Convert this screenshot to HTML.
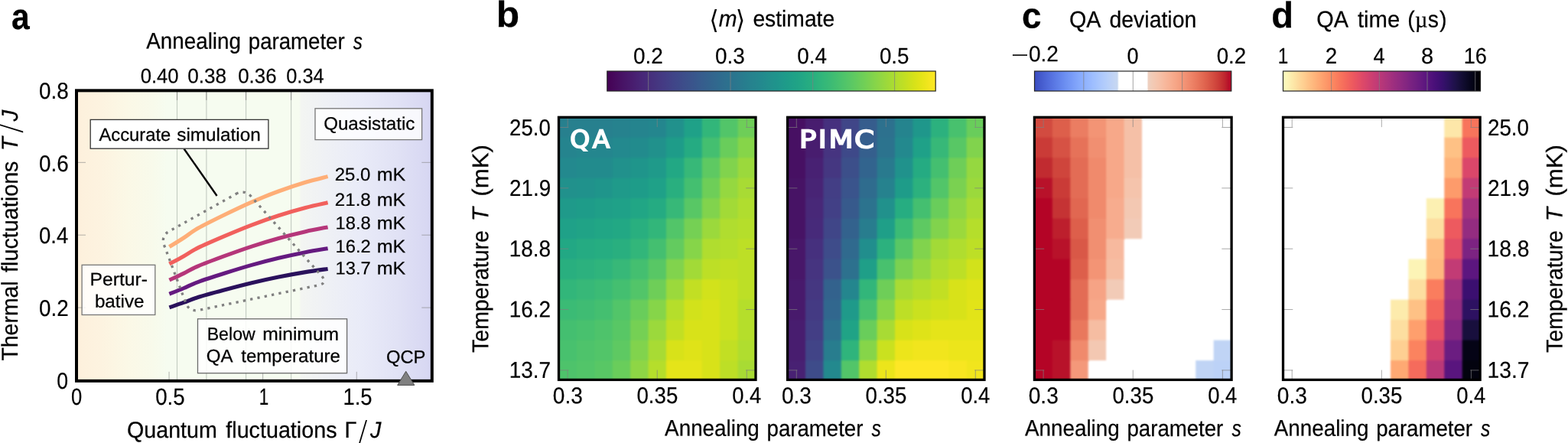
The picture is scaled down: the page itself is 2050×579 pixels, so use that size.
<!DOCTYPE html>
<html lang="en"><head><meta charset="utf-8"><title>Figure</title>
<style>
html,body{margin:0;padding:0;background:#fff;}
body{width:2050px;height:579px;overflow:hidden;font-family:"Liberation Sans", "DejaVu Sans", sans-serif;}
svg{display:block;}
</style></head>
<body>
<svg width="2050" height="579" viewBox="0 0 2050 579" text-rendering="geometricPrecision" font-family='"Liberation Sans", "DejaVu Sans", sans-serif'>
<defs>
<linearGradient id="bga" x1="0" x2="1" y1="0" y2="0">
<stop offset="0" stop-color="#fdf0dc"/>
<stop offset="0.07" stop-color="#fdf3e0"/>
<stop offset="0.14" stop-color="#fbf8e6"/>
<stop offset="0.215" stop-color="#f8faeb"/>
<stop offset="0.255" stop-color="#f6fcf0"/>
<stop offset="0.626" stop-color="#f6fcf0"/>
<stop offset="0.632" stop-color="#f3f5f2"/>
<stop offset="0.70" stop-color="#eff1f5"/>
<stop offset="0.80" stop-color="#e9ebf8"/>
<stop offset="0.90" stop-color="#e1e2f5"/>
<stop offset="1" stop-color="#d6d6f2"/>
</linearGradient>
</defs>
<rect x="100.0" y="118.35" width="464.79999999999995" height="379.5" fill="url(#bga)"/>
<line x1="231.5" x2="231.5" y1="118.35" y2="497.85" stroke="#c3cbc1" stroke-width="1.1"/>
<line x1="269.9" x2="269.9" y1="118.35" y2="497.85" stroke="#c3cbc1" stroke-width="1.1"/>
<line x1="321.6" x2="321.6" y1="118.35" y2="497.85" stroke="#c3cbc1" stroke-width="1.1"/>
<line x1="380.6" x2="380.6" y1="118.35" y2="497.85" stroke="#c3cbc1" stroke-width="1.1"/>
<line x1="231.5" x2="231.5" y1="118.35" y2="130.85" stroke="#808080" stroke-width="1" stroke-opacity="0.8"/>
<line x1="269.9" x2="269.9" y1="118.35" y2="130.85" stroke="#808080" stroke-width="1" stroke-opacity="0.8"/>
<line x1="321.6" x2="321.6" y1="118.35" y2="130.85" stroke="#808080" stroke-width="1" stroke-opacity="0.8"/>
<line x1="380.6" x2="380.6" y1="118.35" y2="130.85" stroke="#808080" stroke-width="1" stroke-opacity="0.8"/>
<line x1="221.05" x2="221.05" y1="497.85" y2="485.85" stroke="#808080" stroke-width="1" stroke-opacity="0.6"/>
<line x1="343.65" x2="343.65" y1="497.85" y2="485.85" stroke="#808080" stroke-width="1" stroke-opacity="0.6"/>
<line x1="466.25" x2="466.25" y1="497.85" y2="485.85" stroke="#808080" stroke-width="1" stroke-opacity="0.6"/>
<line x1="100.0" x2="112.0" y1="402.08" y2="402.08" stroke="#808080" stroke-width="1" stroke-opacity="0.6"/>
<line x1="564.8" x2="551.3" y1="402.08" y2="402.08" stroke="#808080" stroke-width="1" stroke-opacity="0.6"/>
<line x1="100.0" x2="112.0" y1="307.20" y2="307.20" stroke="#808080" stroke-width="1" stroke-opacity="0.6"/>
<line x1="564.8" x2="551.3" y1="307.20" y2="307.20" stroke="#808080" stroke-width="1" stroke-opacity="0.6"/>
<line x1="100.0" x2="112.0" y1="212.33" y2="212.33" stroke="#808080" stroke-width="1" stroke-opacity="0.6"/>
<line x1="564.8" x2="551.3" y1="212.33" y2="212.33" stroke="#808080" stroke-width="1" stroke-opacity="0.6"/>
<path d="M221.40 322.60 C224.50 320.67 233.75 315.05 240.00 311.00 C246.25 306.95 249.90 303.38 258.90 298.30 C267.90 293.22 282.30 286.20 294.00 280.50 C305.70 274.80 317.40 269.18 329.10 264.10 C340.80 259.02 352.48 254.30 364.20 250.00 C375.92 245.70 388.67 241.53 399.40 238.30 C410.13 235.07 423.73 231.88 428.60 230.60" fill="none" stroke="#feae77" stroke-width="5.1" stroke-linecap="butt"/>
<path d="M221.40 345.03 C224.50 343.35 233.75 338.45 240.00 334.92 C246.25 331.39 249.90 328.28 258.90 323.84 C267.90 319.41 282.30 313.29 294.00 308.32 C305.70 303.35 317.40 298.45 329.10 294.02 C340.80 289.59 352.48 285.47 364.20 281.72 C375.92 277.98 388.67 274.34 399.40 271.52 C410.13 268.70 423.73 265.93 428.60 264.81" fill="none" stroke="#f1605d" stroke-width="5.1" stroke-linecap="butt"/>
<path d="M221.40 366.06 C224.50 364.61 233.75 360.38 240.00 357.34 C246.25 354.29 249.90 351.61 258.90 347.79 C267.90 343.97 282.30 338.69 294.00 334.40 C305.70 330.12 317.40 325.89 329.10 322.07 C340.80 318.25 352.48 314.70 364.20 311.47 C375.92 308.23 388.67 305.10 399.40 302.67 C410.13 300.24 423.73 297.84 428.60 296.88" fill="none" stroke="#b5367a" stroke-width="5.1" stroke-linecap="butt"/>
<path d="M221.40 384.29 C224.50 383.04 233.75 379.40 240.00 376.77 C246.25 374.15 249.90 371.84 258.90 368.54 C267.90 365.25 282.30 360.70 294.00 357.01 C305.70 353.31 317.40 349.67 329.10 346.38 C340.80 343.09 352.48 340.03 364.20 337.24 C375.92 334.46 388.67 331.76 399.40 329.66 C410.13 327.57 423.73 325.50 428.60 324.67" fill="none" stroke="#651a80" stroke-width="5.1" stroke-linecap="butt"/>
<path d="M221.40 401.81 C224.50 400.75 233.75 397.68 240.00 395.46 C246.25 393.24 249.90 391.28 258.90 388.50 C267.90 385.71 282.30 381.87 294.00 378.74 C305.70 375.62 317.40 372.54 329.10 369.75 C340.80 366.97 352.48 364.38 364.20 362.03 C375.92 359.67 388.67 357.39 399.40 355.62 C410.13 353.84 423.73 352.10 428.60 351.40" fill="none" stroke="#2a115c" stroke-width="5.1" stroke-linecap="butt"/>
<path d="M308.45 253.53 Q319.80 247.20 328.43 256.93 L420.27 360.47 Q428.90 370.20 416.17 372.85 L260.13 405.35 Q247.40 408.00 242.84 395.83 L214.66 320.57 Q210.10 308.40 221.45 302.07 Z" fill="none" stroke="#808080" stroke-width="3.3" stroke-dasharray="3.3 6.2"/>
<line x1="240.6" y1="194.5" x2="283.6" y2="256.0" stroke="#000" stroke-width="2.4"/>
<rect x="118.2" y="156.4" width="232.7" height="37.79999999999998" fill="#fff" fill-opacity="1" stroke="#333" stroke-width="1.3"/>
<rect x="412" y="141.8" width="139.60000000000002" height="40.79999999999998" fill="#fff" fill-opacity="0.8" stroke="#777" stroke-width="1.3"/>
<rect x="107.1" y="346.3" width="95.70000000000002" height="65.19999999999999" fill="#fff" fill-opacity="0.8" stroke="#777" stroke-width="1.3"/>
<rect x="258.5" y="416.8" width="195.10000000000002" height="70.89999999999998" fill="#fff" fill-opacity="0.85" stroke="#6a6a6a" stroke-width="1.3"/>
<g>
<text transform="translate(129.40 184.00) rotate(0.03) scale(1.0079 1)" font-size="23.6" fill="#000" stroke="#000" stroke-width="0.25">Accurate</text>
<text transform="translate(231.22 184.00) rotate(0.03) scale(1.0311 1)" font-size="23.6" fill="#000" stroke="#000" stroke-width="0.25">simulation</text>
</g>
<text transform="translate(423.17 169.50) rotate(0.03) scale(1.0212 1)" font-size="23.6" fill="#000" stroke="#000" stroke-width="0.25">Quasistatic</text>
<text transform="translate(117.57 373.00) rotate(0.03) scale(1.0457 1)" font-size="23.6" fill="#000" stroke="#000" stroke-width="0.25">Pertur-</text>
<text transform="translate(123.89 401.70) rotate(0.03) scale(1.0257 1)" font-size="23.6" fill="#000" stroke="#000" stroke-width="0.25">bative</text>
<g>
<text transform="translate(270.69 444.60) rotate(0.03) scale(0.9805 1)" font-size="23.6" fill="#000" stroke="#000" stroke-width="0.25">Below</text>
<text transform="translate(343.16 444.60) rotate(0.03) scale(1.0450 1)" font-size="23.6" fill="#000" stroke="#000" stroke-width="0.25">minimum</text>
</g>
<g>
<text transform="translate(269.77 473.20) rotate(0.03) scale(1.0209 1)" font-size="23.6" fill="#000" stroke="#000" stroke-width="0.25">QA</text>
<text transform="translate(315.20 473.20) rotate(0.03) scale(1.0199 1)" font-size="23.6" fill="#000" stroke="#000" stroke-width="0.25">temperature</text>
</g>
<text transform="translate(504.89 474.40) rotate(0.03) scale(1.0073 1)" font-size="23.6" fill="#000" stroke="#000" stroke-width="0.25">QCP</text>
<g>
<text transform="translate(437.78 235.90) rotate(0.03) scale(1.0150 1)" font-size="23.6" fill="#000" stroke="#000" stroke-width="0.2">25.0</text>
<text transform="translate(492.74 235.90) rotate(0.03) scale(1.0602 1)" font-size="23.6" fill="#000" stroke="#000" stroke-width="0.25">mK</text>
</g>
<g>
<text transform="translate(437.77 269.00) rotate(0.03) scale(1.0235 1)" font-size="23.6" fill="#000" stroke="#000" stroke-width="0.2">21.8</text>
<text transform="translate(492.74 269.00) rotate(0.03) scale(1.0602 1)" font-size="23.6" fill="#000" stroke="#000" stroke-width="0.25">mK</text>
</g>
<g>
<text transform="translate(438.62 299.40) rotate(0.03) scale(1.0046 1)" font-size="23.6" fill="#000" stroke="#000" stroke-width="0.2">18.8</text>
<text transform="translate(492.74 299.40) rotate(0.03) scale(1.0602 1)" font-size="23.6" fill="#000" stroke="#000" stroke-width="0.25">mK</text>
</g>
<g>
<text transform="translate(438.62 329.90) rotate(0.03) scale(1.0046 1)" font-size="23.6" fill="#000" stroke="#000" stroke-width="0.2">16.2</text>
<text transform="translate(492.74 329.90) rotate(0.03) scale(1.0602 1)" font-size="23.6" fill="#000" stroke="#000" stroke-width="0.25">mK</text>
</g>
<g>
<text transform="translate(438.62 358.50) rotate(0.03) scale(1.0046 1)" font-size="23.6" fill="#000" stroke="#000" stroke-width="0.2">13.7</text>
<text transform="translate(492.74 358.50) rotate(0.03) scale(1.0602 1)" font-size="23.6" fill="#000" stroke="#000" stroke-width="0.25">mK</text>
</g>
<rect x="100.0" y="118.35" width="464.79999999999995" height="379.5" fill="none" stroke="#000" stroke-width="4.0"/>
<path d="M530.7 485.3 L541.8 503.4 L519.7 503.4 Z" fill="#808080" stroke="#4d4d4d" stroke-width="1"/>
<text transform="translate(93.00 529.00) rotate(0.03) scale(0.8366 1)" font-size="30.6" fill="#000" stroke="#000" stroke-width="0.2">0</text>
<text transform="translate(203.13 529.00) rotate(0.03) scale(0.9048 1)" font-size="30.6" fill="#000" stroke="#000" stroke-width="0.2">0.5</text>
<text transform="translate(338.79 529.00) rotate(0.03) scale(0.7356 1)" font-size="30.6" fill="#000" stroke="#000" stroke-width="0.2">1</text>
<text transform="translate(448.49 529.00) rotate(0.03) scale(0.8963 1)" font-size="30.6" fill="#000" stroke="#000" stroke-width="0.2">1.5</text>
<text transform="translate(50.93 128.65) rotate(0.03) scale(0.9279 1)" font-size="30.0" fill="#000" stroke="#000" stroke-width="0.2">0.8</text>
<text transform="translate(50.93 223.53) rotate(0.03) scale(0.9279 1)" font-size="30.0" fill="#000" stroke="#000" stroke-width="0.2">0.6</text>
<text transform="translate(50.94 318.40) rotate(0.03) scale(0.9171 1)" font-size="30.0" fill="#000" stroke="#000" stroke-width="0.2">0.4</text>
<text transform="translate(50.93 413.28) rotate(0.03) scale(0.9279 1)" font-size="30.0" fill="#000" stroke="#000" stroke-width="0.2">0.2</text>
<text transform="translate(74.37 508.05) rotate(0.03) scale(0.8867 1)" font-size="30.0" fill="#000" stroke="#000" stroke-width="0.2">0</text>
<text transform="translate(183.70 108.50) rotate(0.03) scale(0.9504 1)" font-size="27.0" fill="#000" stroke="#000" stroke-width="0.2">0.40</text>
<text transform="translate(245.18 108.50) rotate(0.03) scale(0.9682 1)" font-size="27.0" fill="#000" stroke="#000" stroke-width="0.2">0.38</text>
<text transform="translate(311.19 108.50) rotate(0.03) scale(0.9583 1)" font-size="27.0" fill="#000" stroke="#000" stroke-width="0.2">0.36</text>
<text transform="translate(374.21 108.50) rotate(0.03) scale(0.9406 1)" font-size="27.0" fill="#000" stroke="#000" stroke-width="0.2">0.34</text>
<g>
<text transform="translate(191.30 63.60) rotate(0.03) scale(0.9329 1)" font-size="29.8" fill="#000" stroke="#000" stroke-width="0.25">Annealing</text>
<text transform="translate(324.77 63.60) rotate(0.03) scale(0.9267 1)" font-size="29.8" fill="#000" stroke="#000" stroke-width="0.25">parameter</text>
<text transform="translate(461.80 63.60) rotate(0.03) scale(0.8106 1)" font-size="29.8" fill="#000" stroke="#000" stroke-width="0.25"><tspan font-style="italic">s</tspan></text>
</g>
<g>
<g>
<text transform="translate(166.06 572.00) rotate(0.03) scale(0.9604 1)" font-size="29.8" fill="#000" stroke="#000" stroke-width="0.25">Quantum</text>
<text transform="translate(295.30 572.00) rotate(0.03) scale(0.9632 1)" font-size="29.8" fill="#000" stroke="#000" stroke-width="0.25">fluctuations</text>
</g>
<text transform="translate(450.45 572.00) rotate(0.03) scale(0.9647 1)" font-size="29.8" fill="#000" stroke="#000" stroke-width="0.25"><tspan x="0.00" y="0.00">Γ</tspan><tspan font-weight="200" font-family='"DejaVu Sans", sans-serif' font-size="37.1" stroke-width="0" x="18.70" y="3.90">/</tspan><tspan font-style="italic" x="34.82" y="0.00">J</tspan></text>
</g>
<g>
<g>
<text transform="translate(22.90 471.54) rotate(-89.97) scale(0.9536 1)" font-size="29.8" fill="#000" stroke="#000" stroke-width="0.25">Thermal</text>
<text transform="translate(22.90 355.90) rotate(-89.97) scale(0.9645 1)" font-size="29.8" fill="#000" stroke="#000" stroke-width="0.25">fluctuations</text>
</g>
<text transform="translate(22.90 197.30) rotate(-89.97) scale(0.9873 1)" font-size="29.8" fill="#000" stroke="#000" stroke-width="0.25"><tspan font-style="italic" x="0.00" y="0.00">T</tspan><tspan font-weight="200" font-family='"DejaVu Sans", sans-serif' font-size="37.1" stroke-width="0" x="23.55" y="3.90">/</tspan><tspan font-style="italic" x="39.36" y="0.00">J</tspan></text>
</g>
<text transform="translate(15.03 37.60) rotate(0.03) scale(0.8970 1)" font-size="47.5" fill="#000" stroke="#000" stroke-width="0.25"><tspan font-weight="bold">a</tspan></text>
<defs><filter id="soft" x="-5%" y="-5%" width="110%" height="110%" color-interpolation-filters="sRGB"><feGaussianBlur stdDeviation="1.0"/></filter></defs>
<defs><clipPath id="hc1"><rect x="730.5" y="153.3" width="257.5" height="343.09999999999997"/></clipPath></defs>
<rect x="730.5" y="153.3" width="257.5" height="343.09999999999997" fill="#fff"/>
<g clip-path="url(#hc1)"><g filter="url(#soft)">
<rect x="726.50" y="149.20" width="28.41" height="31.49" fill="#27808e"/>
<rect x="753.91" y="149.20" width="24.41" height="31.49" fill="#27808e"/>
<rect x="777.32" y="149.20" width="24.41" height="31.49" fill="#27808e"/>
<rect x="800.73" y="149.20" width="24.41" height="31.49" fill="#26828e"/>
<rect x="824.14" y="149.20" width="24.41" height="31.49" fill="#25848e"/>
<rect x="847.55" y="149.20" width="24.41" height="31.49" fill="#24868e"/>
<rect x="870.95" y="149.20" width="24.41" height="31.49" fill="#21918c"/>
<rect x="894.36" y="149.20" width="24.41" height="31.49" fill="#1fa188"/>
<rect x="917.77" y="149.20" width="24.41" height="31.49" fill="#32b67a"/>
<rect x="941.18" y="149.20" width="24.41" height="31.49" fill="#52c569"/>
<rect x="964.59" y="149.20" width="27.41" height="31.49" fill="#6ece58"/>
<rect x="726.50" y="179.69" width="28.41" height="27.49" fill="#25848e"/>
<rect x="753.91" y="179.69" width="24.41" height="27.49" fill="#24868e"/>
<rect x="777.32" y="179.69" width="24.41" height="27.49" fill="#24868e"/>
<rect x="800.73" y="179.69" width="24.41" height="27.49" fill="#23898e"/>
<rect x="824.14" y="179.69" width="24.41" height="27.49" fill="#228b8d"/>
<rect x="847.55" y="179.69" width="24.41" height="27.49" fill="#21918c"/>
<rect x="870.95" y="179.69" width="24.41" height="27.49" fill="#1e9c89"/>
<rect x="894.36" y="179.69" width="24.41" height="27.49" fill="#25ab82"/>
<rect x="917.77" y="179.69" width="24.41" height="27.49" fill="#44bf70"/>
<rect x="941.18" y="179.69" width="24.41" height="27.49" fill="#69cd5b"/>
<rect x="964.59" y="179.69" width="27.41" height="27.49" fill="#86d549"/>
<rect x="726.50" y="206.18" width="28.41" height="27.49" fill="#23898e"/>
<rect x="753.91" y="206.18" width="24.41" height="27.49" fill="#228b8d"/>
<rect x="777.32" y="206.18" width="24.41" height="27.49" fill="#228b8d"/>
<rect x="800.73" y="206.18" width="24.41" height="27.49" fill="#21918c"/>
<rect x="824.14" y="206.18" width="24.41" height="27.49" fill="#1f958b"/>
<rect x="847.55" y="206.18" width="24.41" height="27.49" fill="#1f9a8a"/>
<rect x="870.95" y="206.18" width="24.41" height="27.49" fill="#22a884"/>
<rect x="894.36" y="206.18" width="24.41" height="27.49" fill="#37b878"/>
<rect x="917.77" y="206.18" width="24.41" height="27.49" fill="#5ec962"/>
<rect x="941.18" y="206.18" width="24.41" height="27.49" fill="#81d34d"/>
<rect x="964.59" y="206.18" width="27.41" height="27.49" fill="#9bd93c"/>
<rect x="726.50" y="232.68" width="28.41" height="27.49" fill="#21918c"/>
<rect x="753.91" y="232.68" width="24.41" height="27.49" fill="#20928c"/>
<rect x="777.32" y="232.68" width="24.41" height="27.49" fill="#1f958b"/>
<rect x="800.73" y="232.68" width="24.41" height="27.49" fill="#1f9a8a"/>
<rect x="824.14" y="232.68" width="24.41" height="27.49" fill="#1e9c89"/>
<rect x="847.55" y="232.68" width="24.41" height="27.49" fill="#1fa188"/>
<rect x="870.95" y="232.68" width="24.41" height="27.49" fill="#29af7f"/>
<rect x="894.36" y="232.68" width="24.41" height="27.49" fill="#44bf70"/>
<rect x="917.77" y="232.68" width="24.41" height="27.49" fill="#6ece58"/>
<rect x="941.18" y="232.68" width="24.41" height="27.49" fill="#95d840"/>
<rect x="964.59" y="232.68" width="27.41" height="27.49" fill="#a8db34"/>
<rect x="726.50" y="259.17" width="28.41" height="27.49" fill="#1f9a8a"/>
<rect x="753.91" y="259.17" width="24.41" height="27.49" fill="#1e9c89"/>
<rect x="777.32" y="259.17" width="24.41" height="27.49" fill="#1f9f88"/>
<rect x="800.73" y="259.17" width="24.41" height="27.49" fill="#1fa188"/>
<rect x="824.14" y="259.17" width="24.41" height="27.49" fill="#21a685"/>
<rect x="847.55" y="259.17" width="24.41" height="27.49" fill="#25ab82"/>
<rect x="870.95" y="259.17" width="24.41" height="27.49" fill="#37b878"/>
<rect x="894.36" y="259.17" width="24.41" height="27.49" fill="#58c765"/>
<rect x="917.77" y="259.17" width="24.41" height="27.49" fill="#81d34d"/>
<rect x="941.18" y="259.17" width="24.41" height="27.49" fill="#a2da37"/>
<rect x="964.59" y="259.17" width="27.41" height="27.49" fill="#b0dd2f"/>
<rect x="726.50" y="285.66" width="28.41" height="27.49" fill="#1fa188"/>
<rect x="753.91" y="285.66" width="24.41" height="27.49" fill="#20a386"/>
<rect x="777.32" y="285.66" width="24.41" height="27.49" fill="#21a685"/>
<rect x="800.73" y="285.66" width="24.41" height="27.49" fill="#22a884"/>
<rect x="824.14" y="285.66" width="24.41" height="27.49" fill="#29af7f"/>
<rect x="847.55" y="285.66" width="24.41" height="27.49" fill="#32b67a"/>
<rect x="870.95" y="285.66" width="24.41" height="27.49" fill="#52c569"/>
<rect x="894.36" y="285.66" width="24.41" height="27.49" fill="#75d054"/>
<rect x="917.77" y="285.66" width="24.41" height="27.49" fill="#9bd93c"/>
<rect x="941.18" y="285.66" width="24.41" height="27.49" fill="#b0dd2f"/>
<rect x="964.59" y="285.66" width="27.41" height="27.49" fill="#b5de2b"/>
<rect x="726.50" y="312.15" width="28.41" height="27.49" fill="#22a884"/>
<rect x="753.91" y="312.15" width="24.41" height="27.49" fill="#25ab82"/>
<rect x="777.32" y="312.15" width="24.41" height="27.49" fill="#26ad81"/>
<rect x="800.73" y="312.15" width="24.41" height="27.49" fill="#29af7f"/>
<rect x="824.14" y="312.15" width="24.41" height="27.49" fill="#32b67a"/>
<rect x="847.55" y="312.15" width="24.41" height="27.49" fill="#44bf70"/>
<rect x="870.95" y="312.15" width="24.41" height="27.49" fill="#63cb5f"/>
<rect x="894.36" y="312.15" width="24.41" height="27.49" fill="#86d549"/>
<rect x="917.77" y="312.15" width="24.41" height="27.49" fill="#b0dd2f"/>
<rect x="941.18" y="312.15" width="24.41" height="27.49" fill="#b5de2b"/>
<rect x="964.59" y="312.15" width="27.41" height="27.49" fill="#bddf26"/>
<rect x="726.50" y="338.65" width="28.41" height="27.49" fill="#29af7f"/>
<rect x="753.91" y="338.65" width="24.41" height="27.49" fill="#2cb17e"/>
<rect x="777.32" y="338.65" width="24.41" height="27.49" fill="#2fb47c"/>
<rect x="800.73" y="338.65" width="24.41" height="27.49" fill="#37b878"/>
<rect x="824.14" y="338.65" width="24.41" height="27.49" fill="#44bf70"/>
<rect x="847.55" y="338.65" width="24.41" height="27.49" fill="#58c765"/>
<rect x="870.95" y="338.65" width="24.41" height="27.49" fill="#81d34d"/>
<rect x="894.36" y="338.65" width="24.41" height="27.49" fill="#a2da37"/>
<rect x="917.77" y="338.65" width="24.41" height="27.49" fill="#bddf26"/>
<rect x="941.18" y="338.65" width="24.41" height="27.49" fill="#c2df23"/>
<rect x="964.59" y="338.65" width="27.41" height="27.49" fill="#bddf26"/>
<rect x="726.50" y="365.14" width="28.41" height="27.49" fill="#32b67a"/>
<rect x="753.91" y="365.14" width="24.41" height="27.49" fill="#37b878"/>
<rect x="777.32" y="365.14" width="24.41" height="27.49" fill="#3bbb75"/>
<rect x="800.73" y="365.14" width="24.41" height="27.49" fill="#44bf70"/>
<rect x="824.14" y="365.14" width="24.41" height="27.49" fill="#52c569"/>
<rect x="847.55" y="365.14" width="24.41" height="27.49" fill="#6ece58"/>
<rect x="870.95" y="365.14" width="24.41" height="27.49" fill="#9bd93c"/>
<rect x="894.36" y="365.14" width="24.41" height="27.49" fill="#c2df23"/>
<rect x="917.77" y="365.14" width="24.41" height="27.49" fill="#d2e21b"/>
<rect x="941.18" y="365.14" width="24.41" height="27.49" fill="#cae11f"/>
<rect x="964.59" y="365.14" width="27.41" height="27.49" fill="#bddf26"/>
<rect x="726.50" y="391.63" width="28.41" height="27.49" fill="#3bbb75"/>
<rect x="753.91" y="391.63" width="24.41" height="27.49" fill="#3fbc73"/>
<rect x="777.32" y="391.63" width="24.41" height="27.49" fill="#44bf70"/>
<rect x="800.73" y="391.63" width="24.41" height="27.49" fill="#52c569"/>
<rect x="824.14" y="391.63" width="24.41" height="27.49" fill="#69cd5b"/>
<rect x="847.55" y="391.63" width="24.41" height="27.49" fill="#86d549"/>
<rect x="870.95" y="391.63" width="24.41" height="27.49" fill="#b5de2b"/>
<rect x="894.36" y="391.63" width="24.41" height="27.49" fill="#d2e21b"/>
<rect x="917.77" y="391.63" width="24.41" height="27.49" fill="#d8e219"/>
<rect x="941.18" y="391.63" width="24.41" height="27.49" fill="#cae11f"/>
<rect x="964.59" y="391.63" width="27.41" height="27.49" fill="#b5de2b"/>
<rect x="726.50" y="418.12" width="28.41" height="27.49" fill="#44bf70"/>
<rect x="753.91" y="418.12" width="24.41" height="27.49" fill="#48c16e"/>
<rect x="777.32" y="418.12" width="24.41" height="27.49" fill="#4ec36b"/>
<rect x="800.73" y="418.12" width="24.41" height="27.49" fill="#58c765"/>
<rect x="824.14" y="418.12" width="24.41" height="27.49" fill="#75d054"/>
<rect x="847.55" y="418.12" width="24.41" height="27.49" fill="#9bd93c"/>
<rect x="870.95" y="418.12" width="24.41" height="27.49" fill="#c2df23"/>
<rect x="894.36" y="418.12" width="24.41" height="27.49" fill="#d8e219"/>
<rect x="917.77" y="418.12" width="24.41" height="27.49" fill="#d8e219"/>
<rect x="941.18" y="418.12" width="24.41" height="27.49" fill="#cae11f"/>
<rect x="964.59" y="418.12" width="27.41" height="27.49" fill="#b5de2b"/>
<rect x="726.50" y="444.62" width="28.41" height="27.49" fill="#48c16e"/>
<rect x="753.91" y="444.62" width="24.41" height="27.49" fill="#4ec36b"/>
<rect x="777.32" y="444.62" width="24.41" height="27.49" fill="#52c569"/>
<rect x="800.73" y="444.62" width="24.41" height="27.49" fill="#5ec962"/>
<rect x="824.14" y="444.62" width="24.41" height="27.49" fill="#81d34d"/>
<rect x="847.55" y="444.62" width="24.41" height="27.49" fill="#a8db34"/>
<rect x="870.95" y="444.62" width="24.41" height="27.49" fill="#d8e219"/>
<rect x="894.36" y="444.62" width="24.41" height="27.49" fill="#dfe318"/>
<rect x="917.77" y="444.62" width="24.41" height="27.49" fill="#d8e219"/>
<rect x="941.18" y="444.62" width="24.41" height="27.49" fill="#c2df23"/>
<rect x="964.59" y="444.62" width="27.41" height="27.49" fill="#b0dd2f"/>
<rect x="726.50" y="471.11" width="28.41" height="30.49" fill="#4ec36b"/>
<rect x="753.91" y="471.11" width="24.41" height="30.49" fill="#52c569"/>
<rect x="777.32" y="471.11" width="24.41" height="30.49" fill="#58c765"/>
<rect x="800.73" y="471.11" width="24.41" height="30.49" fill="#69cd5b"/>
<rect x="824.14" y="471.11" width="24.41" height="30.49" fill="#8ed645"/>
<rect x="847.55" y="471.11" width="24.41" height="30.49" fill="#b5de2b"/>
<rect x="870.95" y="471.11" width="24.41" height="30.49" fill="#e5e419"/>
<rect x="894.36" y="471.11" width="24.41" height="30.49" fill="#e5e419"/>
<rect x="917.77" y="471.11" width="24.41" height="30.49" fill="#d8e219"/>
<rect x="941.18" y="471.11" width="24.41" height="30.49" fill="#bddf26"/>
<rect x="964.59" y="471.11" width="27.41" height="30.49" fill="#a8db34"/>
</g></g>
<line x1="742.20" x2="742.20" y1="153.3" y2="166.10000000000002" stroke="#808080" stroke-width="0.9" stroke-opacity="0.75"/>
<line x1="742.20" x2="742.20" y1="496.4" y2="483.59999999999997" stroke="#808080" stroke-width="0.9" stroke-opacity="0.75"/>
<line x1="859.25" x2="859.25" y1="153.3" y2="166.10000000000002" stroke="#808080" stroke-width="0.9" stroke-opacity="0.75"/>
<line x1="859.25" x2="859.25" y1="496.4" y2="483.59999999999997" stroke="#808080" stroke-width="0.9" stroke-opacity="0.75"/>
<line x1="976.30" x2="976.30" y1="153.3" y2="166.10000000000002" stroke="#808080" stroke-width="0.9" stroke-opacity="0.75"/>
<line x1="976.30" x2="976.30" y1="496.4" y2="483.59999999999997" stroke="#808080" stroke-width="0.9" stroke-opacity="0.75"/>
<line x1="730.5" x2="743.3" y1="166.50" y2="166.50" stroke="#808080" stroke-width="0.9" stroke-opacity="0.75"/>
<line x1="988.0" x2="975.2" y1="166.50" y2="166.50" stroke="#808080" stroke-width="0.9" stroke-opacity="0.75"/>
<line x1="730.5" x2="743.3" y1="245.85" y2="245.85" stroke="#808080" stroke-width="0.9" stroke-opacity="0.75"/>
<line x1="988.0" x2="975.2" y1="245.85" y2="245.85" stroke="#808080" stroke-width="0.9" stroke-opacity="0.75"/>
<line x1="730.5" x2="743.3" y1="325.20" y2="325.20" stroke="#808080" stroke-width="0.9" stroke-opacity="0.75"/>
<line x1="988.0" x2="975.2" y1="325.20" y2="325.20" stroke="#808080" stroke-width="0.9" stroke-opacity="0.75"/>
<line x1="730.5" x2="743.3" y1="404.55" y2="404.55" stroke="#808080" stroke-width="0.9" stroke-opacity="0.75"/>
<line x1="988.0" x2="975.2" y1="404.55" y2="404.55" stroke="#808080" stroke-width="0.9" stroke-opacity="0.75"/>
<line x1="730.5" x2="743.3" y1="483.90" y2="483.90" stroke="#808080" stroke-width="0.9" stroke-opacity="0.75"/>
<line x1="988.0" x2="975.2" y1="483.90" y2="483.90" stroke="#808080" stroke-width="0.9" stroke-opacity="0.75"/>
<rect x="730.5" y="153.3" width="257.5" height="343.09999999999997" fill="none" stroke="#000" stroke-width="3.3"/>
<text transform="translate(722.83 527.30) rotate(0.03) scale(0.9355 1)" font-size="30.0" fill="#000" stroke="#000" stroke-width="0.2">0.3</text>
<text transform="translate(832.49 527.30) rotate(0.03) scale(0.9211 1)" font-size="30.0" fill="#000" stroke="#000" stroke-width="0.2">0.35</text>
<text transform="translate(957.14 527.30) rotate(0.03) scale(0.9146 1)" font-size="30.0" fill="#000" stroke="#000" stroke-width="0.2">0.4</text>
<defs><clipPath id="hc2"><rect x="1029.6" y="153.3" width="257.4000000000001" height="343.09999999999997"/></clipPath></defs>
<rect x="1029.6" y="153.3" width="257.4000000000001" height="343.09999999999997" fill="#fff"/>
<g clip-path="url(#hc2)"><g filter="url(#soft)">
<rect x="1025.60" y="149.20" width="28.40" height="31.49" fill="#471063"/>
<rect x="1053.00" y="149.20" width="24.40" height="31.49" fill="#481d6f"/>
<rect x="1076.40" y="149.20" width="24.40" height="31.49" fill="#46307e"/>
<rect x="1099.80" y="149.20" width="24.40" height="31.49" fill="#404688"/>
<rect x="1123.20" y="149.20" width="24.40" height="31.49" fill="#365d8d"/>
<rect x="1146.60" y="149.20" width="24.40" height="31.49" fill="#2d718e"/>
<rect x="1170.00" y="149.20" width="24.40" height="31.49" fill="#25848e"/>
<rect x="1193.40" y="149.20" width="24.40" height="31.49" fill="#1f978b"/>
<rect x="1216.80" y="149.20" width="24.40" height="31.49" fill="#2cb17e"/>
<rect x="1240.20" y="149.20" width="24.40" height="31.49" fill="#48c16e"/>
<rect x="1263.60" y="149.20" width="27.40" height="31.49" fill="#69cd5b"/>
<rect x="1025.60" y="179.69" width="28.40" height="27.49" fill="#471063"/>
<rect x="1053.00" y="179.69" width="24.40" height="27.49" fill="#481d6f"/>
<rect x="1076.40" y="179.69" width="24.40" height="27.49" fill="#463480"/>
<rect x="1099.80" y="179.69" width="24.40" height="27.49" fill="#3e4989"/>
<rect x="1123.20" y="179.69" width="24.40" height="27.49" fill="#355f8d"/>
<rect x="1146.60" y="179.69" width="24.40" height="27.49" fill="#2c738e"/>
<rect x="1170.00" y="179.69" width="24.40" height="27.49" fill="#23898e"/>
<rect x="1193.40" y="179.69" width="24.40" height="27.49" fill="#1fa188"/>
<rect x="1216.80" y="179.69" width="24.40" height="27.49" fill="#37b878"/>
<rect x="1240.20" y="179.69" width="24.40" height="27.49" fill="#58c765"/>
<rect x="1263.60" y="179.69" width="27.40" height="27.49" fill="#81d34d"/>
<rect x="1025.60" y="206.18" width="28.40" height="27.49" fill="#471063"/>
<rect x="1053.00" y="206.18" width="24.40" height="27.49" fill="#482173"/>
<rect x="1076.40" y="206.18" width="24.40" height="27.49" fill="#453781"/>
<rect x="1099.80" y="206.18" width="24.40" height="27.49" fill="#3c4f8a"/>
<rect x="1123.20" y="206.18" width="24.40" height="27.49" fill="#32648e"/>
<rect x="1146.60" y="206.18" width="24.40" height="27.49" fill="#297a8e"/>
<rect x="1170.00" y="206.18" width="24.40" height="27.49" fill="#20928c"/>
<rect x="1193.40" y="206.18" width="24.40" height="27.49" fill="#25ab82"/>
<rect x="1216.80" y="206.18" width="24.40" height="27.49" fill="#44bf70"/>
<rect x="1240.20" y="206.18" width="24.40" height="27.49" fill="#6ece58"/>
<rect x="1263.60" y="206.18" width="27.40" height="27.49" fill="#95d840"/>
<rect x="1025.60" y="232.68" width="28.40" height="27.49" fill="#471365"/>
<rect x="1053.00" y="232.68" width="24.40" height="27.49" fill="#482475"/>
<rect x="1076.40" y="232.68" width="24.40" height="27.49" fill="#433e85"/>
<rect x="1099.80" y="232.68" width="24.40" height="27.49" fill="#3a548c"/>
<rect x="1123.20" y="232.68" width="24.40" height="27.49" fill="#2f6c8e"/>
<rect x="1146.60" y="232.68" width="24.40" height="27.49" fill="#26828e"/>
<rect x="1170.00" y="232.68" width="24.40" height="27.49" fill="#1e9c89"/>
<rect x="1193.40" y="232.68" width="24.40" height="27.49" fill="#2cb17e"/>
<rect x="1216.80" y="232.68" width="24.40" height="27.49" fill="#52c569"/>
<rect x="1240.20" y="232.68" width="24.40" height="27.49" fill="#7ad151"/>
<rect x="1263.60" y="232.68" width="27.40" height="27.49" fill="#9bd93c"/>
<rect x="1025.60" y="259.17" width="28.40" height="27.49" fill="#471365"/>
<rect x="1053.00" y="259.17" width="24.40" height="27.49" fill="#482878"/>
<rect x="1076.40" y="259.17" width="24.40" height="27.49" fill="#424086"/>
<rect x="1099.80" y="259.17" width="24.40" height="27.49" fill="#375a8c"/>
<rect x="1123.20" y="259.17" width="24.40" height="27.49" fill="#2c738e"/>
<rect x="1146.60" y="259.17" width="24.40" height="27.49" fill="#21918c"/>
<rect x="1170.00" y="259.17" width="24.40" height="27.49" fill="#26ad81"/>
<rect x="1193.40" y="259.17" width="24.40" height="27.49" fill="#44bf70"/>
<rect x="1216.80" y="259.17" width="24.40" height="27.49" fill="#69cd5b"/>
<rect x="1240.20" y="259.17" width="24.40" height="27.49" fill="#8ed645"/>
<rect x="1263.60" y="259.17" width="27.40" height="27.49" fill="#a8db34"/>
<rect x="1025.60" y="285.66" width="28.40" height="27.49" fill="#471365"/>
<rect x="1053.00" y="285.66" width="24.40" height="27.49" fill="#472a7a"/>
<rect x="1076.40" y="285.66" width="24.40" height="27.49" fill="#404688"/>
<rect x="1099.80" y="285.66" width="24.40" height="27.49" fill="#33628d"/>
<rect x="1123.20" y="285.66" width="24.40" height="27.49" fill="#287d8e"/>
<rect x="1146.60" y="285.66" width="24.40" height="27.49" fill="#1f9f88"/>
<rect x="1170.00" y="285.66" width="24.40" height="27.49" fill="#3bbb75"/>
<rect x="1193.40" y="285.66" width="24.40" height="27.49" fill="#5ec962"/>
<rect x="1216.80" y="285.66" width="24.40" height="27.49" fill="#81d34d"/>
<rect x="1240.20" y="285.66" width="24.40" height="27.49" fill="#9bd93c"/>
<rect x="1263.60" y="285.66" width="27.40" height="27.49" fill="#b5de2b"/>
<rect x="1025.60" y="312.15" width="28.40" height="27.49" fill="#481769"/>
<rect x="1053.00" y="312.15" width="24.40" height="27.49" fill="#46307e"/>
<rect x="1076.40" y="312.15" width="24.40" height="27.49" fill="#3e4c8a"/>
<rect x="1099.80" y="312.15" width="24.40" height="27.49" fill="#306a8e"/>
<rect x="1123.20" y="312.15" width="24.40" height="27.49" fill="#218e8d"/>
<rect x="1146.60" y="312.15" width="24.40" height="27.49" fill="#2cb17e"/>
<rect x="1170.00" y="312.15" width="24.40" height="27.49" fill="#58c765"/>
<rect x="1193.40" y="312.15" width="24.40" height="27.49" fill="#81d34d"/>
<rect x="1216.80" y="312.15" width="24.40" height="27.49" fill="#a2da37"/>
<rect x="1240.20" y="312.15" width="24.40" height="27.49" fill="#b0dd2f"/>
<rect x="1263.60" y="312.15" width="27.40" height="27.49" fill="#bddf26"/>
<rect x="1025.60" y="338.65" width="28.40" height="27.49" fill="#481769"/>
<rect x="1053.00" y="338.65" width="24.40" height="27.49" fill="#463480"/>
<rect x="1076.40" y="338.65" width="24.40" height="27.49" fill="#3b528b"/>
<rect x="1099.80" y="338.65" width="24.40" height="27.49" fill="#2d718e"/>
<rect x="1123.20" y="338.65" width="24.40" height="27.49" fill="#1f9f88"/>
<rect x="1146.60" y="338.65" width="24.40" height="27.49" fill="#48c16e"/>
<rect x="1170.00" y="338.65" width="24.40" height="27.49" fill="#7ad151"/>
<rect x="1193.40" y="338.65" width="24.40" height="27.49" fill="#95d840"/>
<rect x="1216.80" y="338.65" width="24.40" height="27.49" fill="#b0dd2f"/>
<rect x="1240.20" y="338.65" width="24.40" height="27.49" fill="#bddf26"/>
<rect x="1263.60" y="338.65" width="27.40" height="27.49" fill="#d2e21b"/>
<rect x="1025.60" y="365.14" width="28.40" height="27.49" fill="#481a6c"/>
<rect x="1053.00" y="365.14" width="24.40" height="27.49" fill="#453781"/>
<rect x="1076.40" y="365.14" width="24.40" height="27.49" fill="#33628d"/>
<rect x="1099.80" y="365.14" width="24.40" height="27.49" fill="#24868e"/>
<rect x="1123.20" y="365.14" width="24.40" height="27.49" fill="#32b67a"/>
<rect x="1146.60" y="365.14" width="24.40" height="27.49" fill="#6ece58"/>
<rect x="1170.00" y="365.14" width="24.40" height="27.49" fill="#a8db34"/>
<rect x="1193.40" y="365.14" width="24.40" height="27.49" fill="#b5de2b"/>
<rect x="1216.80" y="365.14" width="24.40" height="27.49" fill="#c2df23"/>
<rect x="1240.20" y="365.14" width="24.40" height="27.49" fill="#d8e219"/>
<rect x="1263.60" y="365.14" width="27.40" height="27.49" fill="#dfe318"/>
<rect x="1025.60" y="391.63" width="28.40" height="27.49" fill="#481a6c"/>
<rect x="1053.00" y="391.63" width="24.40" height="27.49" fill="#443a83"/>
<rect x="1076.40" y="391.63" width="24.40" height="27.49" fill="#31678e"/>
<rect x="1099.80" y="391.63" width="24.40" height="27.49" fill="#1f9a8a"/>
<rect x="1123.20" y="391.63" width="24.40" height="27.49" fill="#48c16e"/>
<rect x="1146.60" y="391.63" width="24.40" height="27.49" fill="#86d549"/>
<rect x="1170.00" y="391.63" width="24.40" height="27.49" fill="#bddf26"/>
<rect x="1193.40" y="391.63" width="24.40" height="27.49" fill="#cae11f"/>
<rect x="1216.80" y="391.63" width="24.40" height="27.49" fill="#d2e21b"/>
<rect x="1240.20" y="391.63" width="24.40" height="27.49" fill="#d8e219"/>
<rect x="1263.60" y="391.63" width="27.40" height="27.49" fill="#e2e418"/>
<rect x="1025.60" y="418.12" width="28.40" height="27.49" fill="#481d6f"/>
<rect x="1053.00" y="418.12" width="24.40" height="27.49" fill="#433e85"/>
<rect x="1076.40" y="418.12" width="24.40" height="27.49" fill="#2d718e"/>
<rect x="1099.80" y="418.12" width="24.40" height="27.49" fill="#20a386"/>
<rect x="1123.20" y="418.12" width="24.40" height="27.49" fill="#69cd5b"/>
<rect x="1146.60" y="418.12" width="24.40" height="27.49" fill="#a8db34"/>
<rect x="1170.00" y="418.12" width="24.40" height="27.49" fill="#d8e219"/>
<rect x="1193.40" y="418.12" width="24.40" height="27.49" fill="#dfe318"/>
<rect x="1216.80" y="418.12" width="24.40" height="27.49" fill="#e5e419"/>
<rect x="1240.20" y="418.12" width="24.40" height="27.49" fill="#e5e419"/>
<rect x="1263.60" y="418.12" width="27.40" height="27.49" fill="#e5e419"/>
<rect x="1025.60" y="444.62" width="28.40" height="27.49" fill="#481d6f"/>
<rect x="1053.00" y="444.62" width="24.40" height="27.49" fill="#414487"/>
<rect x="1076.40" y="444.62" width="24.40" height="27.49" fill="#287d8e"/>
<rect x="1099.80" y="444.62" width="24.40" height="27.49" fill="#2fb47c"/>
<rect x="1123.20" y="444.62" width="24.40" height="27.49" fill="#86d549"/>
<rect x="1146.60" y="444.62" width="24.40" height="27.49" fill="#cae11f"/>
<rect x="1170.00" y="444.62" width="24.40" height="27.49" fill="#ece51b"/>
<rect x="1193.40" y="444.62" width="24.40" height="27.49" fill="#f1e51d"/>
<rect x="1216.80" y="444.62" width="24.40" height="27.49" fill="#f1e51d"/>
<rect x="1240.20" y="444.62" width="24.40" height="27.49" fill="#ece51b"/>
<rect x="1263.60" y="444.62" width="27.40" height="27.49" fill="#ece51b"/>
<rect x="1025.60" y="471.11" width="28.40" height="30.49" fill="#482173"/>
<rect x="1053.00" y="471.11" width="24.40" height="30.49" fill="#3e4c8a"/>
<rect x="1076.40" y="471.11" width="24.40" height="30.49" fill="#23898e"/>
<rect x="1099.80" y="471.11" width="24.40" height="30.49" fill="#52c569"/>
<rect x="1123.20" y="471.11" width="24.40" height="30.49" fill="#b0dd2f"/>
<rect x="1146.60" y="471.11" width="24.40" height="30.49" fill="#ece51b"/>
<rect x="1170.00" y="471.11" width="24.40" height="30.49" fill="#fde725"/>
<rect x="1193.40" y="471.11" width="24.40" height="30.49" fill="#fde725"/>
<rect x="1216.80" y="471.11" width="24.40" height="30.49" fill="#fde725"/>
<rect x="1240.20" y="471.11" width="24.40" height="30.49" fill="#f8e621"/>
<rect x="1263.60" y="471.11" width="27.40" height="30.49" fill="#f1e51d"/>
</g></g>
<line x1="1041.30" x2="1041.30" y1="153.3" y2="166.10000000000002" stroke="#808080" stroke-width="0.9" stroke-opacity="0.75"/>
<line x1="1041.30" x2="1041.30" y1="496.4" y2="483.59999999999997" stroke="#808080" stroke-width="0.9" stroke-opacity="0.75"/>
<line x1="1158.30" x2="1158.30" y1="153.3" y2="166.10000000000002" stroke="#808080" stroke-width="0.9" stroke-opacity="0.75"/>
<line x1="1158.30" x2="1158.30" y1="496.4" y2="483.59999999999997" stroke="#808080" stroke-width="0.9" stroke-opacity="0.75"/>
<line x1="1275.30" x2="1275.30" y1="153.3" y2="166.10000000000002" stroke="#808080" stroke-width="0.9" stroke-opacity="0.75"/>
<line x1="1275.30" x2="1275.30" y1="496.4" y2="483.59999999999997" stroke="#808080" stroke-width="0.9" stroke-opacity="0.75"/>
<line x1="1029.6" x2="1042.3999999999999" y1="166.50" y2="166.50" stroke="#808080" stroke-width="0.9" stroke-opacity="0.75"/>
<line x1="1287.0" x2="1274.2" y1="166.50" y2="166.50" stroke="#808080" stroke-width="0.9" stroke-opacity="0.75"/>
<line x1="1029.6" x2="1042.3999999999999" y1="245.85" y2="245.85" stroke="#808080" stroke-width="0.9" stroke-opacity="0.75"/>
<line x1="1287.0" x2="1274.2" y1="245.85" y2="245.85" stroke="#808080" stroke-width="0.9" stroke-opacity="0.75"/>
<line x1="1029.6" x2="1042.3999999999999" y1="325.20" y2="325.20" stroke="#808080" stroke-width="0.9" stroke-opacity="0.75"/>
<line x1="1287.0" x2="1274.2" y1="325.20" y2="325.20" stroke="#808080" stroke-width="0.9" stroke-opacity="0.75"/>
<line x1="1029.6" x2="1042.3999999999999" y1="404.55" y2="404.55" stroke="#808080" stroke-width="0.9" stroke-opacity="0.75"/>
<line x1="1287.0" x2="1274.2" y1="404.55" y2="404.55" stroke="#808080" stroke-width="0.9" stroke-opacity="0.75"/>
<line x1="1029.6" x2="1042.3999999999999" y1="483.90" y2="483.90" stroke="#808080" stroke-width="0.9" stroke-opacity="0.75"/>
<line x1="1287.0" x2="1274.2" y1="483.90" y2="483.90" stroke="#808080" stroke-width="0.9" stroke-opacity="0.75"/>
<rect x="1029.6" y="153.3" width="257.4000000000001" height="343.09999999999997" fill="none" stroke="#000" stroke-width="3.3"/>
<text transform="translate(1021.92 527.30) rotate(0.03) scale(0.9355 1)" font-size="30.0" fill="#000" stroke="#000" stroke-width="0.2">0.3</text>
<text transform="translate(1131.54 527.30) rotate(0.03) scale(0.9211 1)" font-size="30.0" fill="#000" stroke="#000" stroke-width="0.2">0.35</text>
<text transform="translate(1256.14 527.30) rotate(0.03) scale(0.9146 1)" font-size="30.0" fill="#000" stroke="#000" stroke-width="0.2">0.4</text>
<defs><clipPath id="hc3"><rect x="1352.4" y="153.3" width="257.6999999999998" height="343.09999999999997"/></clipPath></defs>
<rect x="1352.4" y="153.3" width="257.6999999999998" height="343.09999999999997" fill="#fff"/>
<g clip-path="url(#hc3)"><g filter="url(#soft)">
<rect x="1348.40" y="149.20" width="28.43" height="31.49" fill="#d24b40"/>
<rect x="1375.83" y="149.20" width="24.43" height="31.49" fill="#dd5f4b"/>
<rect x="1399.25" y="149.20" width="24.43" height="31.49" fill="#eb7d62"/>
<rect x="1422.68" y="149.20" width="24.43" height="31.49" fill="#f39475"/>
<rect x="1446.11" y="149.20" width="24.43" height="31.49" fill="#f7a889"/>
<rect x="1469.54" y="149.20" width="23.43" height="31.49" fill="#f5c0a7"/>
<rect x="1348.40" y="179.69" width="28.43" height="27.49" fill="#ca3b37"/>
<rect x="1375.83" y="179.69" width="24.43" height="27.49" fill="#d65244"/>
<rect x="1399.25" y="179.69" width="24.43" height="27.49" fill="#e67259"/>
<rect x="1422.68" y="179.69" width="24.43" height="27.49" fill="#f18f71"/>
<rect x="1446.11" y="179.69" width="24.43" height="27.49" fill="#f7a889"/>
<rect x="1469.54" y="179.69" width="23.43" height="27.49" fill="#f5c0a7"/>
<rect x="1348.40" y="206.18" width="28.43" height="27.49" fill="#c12b30"/>
<rect x="1375.83" y="206.18" width="24.43" height="27.49" fill="#cf453c"/>
<rect x="1399.25" y="206.18" width="24.43" height="27.49" fill="#e36c55"/>
<rect x="1422.68" y="206.18" width="24.43" height="27.49" fill="#f08a6c"/>
<rect x="1446.11" y="206.18" width="24.43" height="27.49" fill="#f7a889"/>
<rect x="1469.54" y="206.18" width="23.43" height="27.49" fill="#f5c0a7"/>
<rect x="1348.40" y="232.68" width="28.43" height="27.49" fill="#b8122a"/>
<rect x="1375.83" y="232.68" width="24.43" height="27.49" fill="#ca3b37"/>
<rect x="1399.25" y="232.68" width="24.43" height="27.49" fill="#e36c55"/>
<rect x="1422.68" y="232.68" width="24.43" height="27.49" fill="#f08a6c"/>
<rect x="1446.11" y="232.68" width="24.43" height="27.49" fill="#f7a889"/>
<rect x="1469.54" y="232.68" width="23.43" height="27.49" fill="#f5c4ac"/>
<rect x="1348.40" y="259.17" width="28.43" height="27.49" fill="#b40426"/>
<rect x="1375.83" y="259.17" width="24.43" height="27.49" fill="#c53334"/>
<rect x="1399.25" y="259.17" width="24.43" height="27.49" fill="#e16751"/>
<rect x="1422.68" y="259.17" width="24.43" height="27.49" fill="#f08a6c"/>
<rect x="1446.11" y="259.17" width="24.43" height="27.49" fill="#f7ac8e"/>
<rect x="1469.54" y="259.17" width="23.43" height="27.49" fill="#f3c8b2"/>
<rect x="1348.40" y="285.66" width="28.43" height="27.49" fill="#b40426"/>
<rect x="1375.83" y="285.66" width="24.43" height="27.49" fill="#bd1f2d"/>
<rect x="1399.25" y="285.66" width="24.43" height="27.49" fill="#dd5f4b"/>
<rect x="1422.68" y="285.66" width="24.43" height="27.49" fill="#f18f71"/>
<rect x="1446.11" y="285.66" width="24.43" height="27.49" fill="#f7ac8e"/>
<rect x="1469.54" y="285.66" width="23.43" height="26.49" fill="#f2cbb7"/>
<rect x="1348.40" y="312.15" width="28.43" height="27.49" fill="#b40426"/>
<rect x="1375.83" y="312.15" width="24.43" height="27.49" fill="#b8122a"/>
<rect x="1399.25" y="312.15" width="24.43" height="27.49" fill="#d95847"/>
<rect x="1422.68" y="312.15" width="24.43" height="27.49" fill="#f18f71"/>
<rect x="1446.11" y="312.15" width="23.43" height="27.49" fill="#f7b99e"/>
<rect x="1348.40" y="338.65" width="28.43" height="27.49" fill="#b40426"/>
<rect x="1375.83" y="338.65" width="24.43" height="27.49" fill="#b40426"/>
<rect x="1399.25" y="338.65" width="24.43" height="27.49" fill="#dd5f4b"/>
<rect x="1422.68" y="338.65" width="24.43" height="27.49" fill="#f39475"/>
<rect x="1446.11" y="338.65" width="23.43" height="27.49" fill="#f6bda2"/>
<rect x="1348.40" y="365.14" width="28.43" height="27.49" fill="#b40426"/>
<rect x="1375.83" y="365.14" width="24.43" height="27.49" fill="#b40426"/>
<rect x="1399.25" y="365.14" width="24.43" height="27.49" fill="#e36c55"/>
<rect x="1422.68" y="365.14" width="24.43" height="27.49" fill="#f6a385"/>
<rect x="1446.11" y="365.14" width="23.43" height="26.49" fill="#f2cbb7"/>
<rect x="1348.40" y="391.63" width="28.43" height="27.49" fill="#b40426"/>
<rect x="1375.83" y="391.63" width="24.43" height="27.49" fill="#b40426"/>
<rect x="1399.25" y="391.63" width="24.43" height="27.49" fill="#e36c55"/>
<rect x="1422.68" y="391.63" width="23.43" height="27.49" fill="#f7a889"/>
<rect x="1348.40" y="418.12" width="28.43" height="27.49" fill="#b40426"/>
<rect x="1375.83" y="418.12" width="24.43" height="27.49" fill="#b40426"/>
<rect x="1399.25" y="418.12" width="24.43" height="27.49" fill="#e9785d"/>
<rect x="1422.68" y="418.12" width="23.43" height="27.49" fill="#f6bda2"/>
<rect x="1348.40" y="444.62" width="28.43" height="27.49" fill="#b40426"/>
<rect x="1375.83" y="444.62" width="24.43" height="27.49" fill="#b8122a"/>
<rect x="1399.25" y="444.62" width="24.43" height="27.49" fill="#f08a6c"/>
<rect x="1422.68" y="444.62" width="23.43" height="26.49" fill="#f3c8b2"/>
<rect x="1586.67" y="444.62" width="27.43" height="27.49" fill="#c0d4f5"/>
<rect x="1348.40" y="471.11" width="28.43" height="30.49" fill="#b40426"/>
<rect x="1375.83" y="471.11" width="24.43" height="30.49" fill="#b8122a"/>
<rect x="1399.25" y="471.11" width="23.43" height="30.49" fill="#f4987a"/>
<rect x="1563.25" y="471.11" width="24.43" height="30.49" fill="#c0d4f5"/>
<rect x="1586.67" y="471.11" width="27.43" height="30.49" fill="#bcd2f7"/>
</g></g>
<line x1="1364.11" x2="1364.11" y1="153.3" y2="166.10000000000002" stroke="#808080" stroke-width="0.9" stroke-opacity="0.75"/>
<line x1="1364.11" x2="1364.11" y1="496.4" y2="483.59999999999997" stroke="#808080" stroke-width="0.9" stroke-opacity="0.75"/>
<line x1="1481.25" x2="1481.25" y1="153.3" y2="166.10000000000002" stroke="#808080" stroke-width="0.9" stroke-opacity="0.75"/>
<line x1="1481.25" x2="1481.25" y1="496.4" y2="483.59999999999997" stroke="#808080" stroke-width="0.9" stroke-opacity="0.75"/>
<line x1="1598.39" x2="1598.39" y1="153.3" y2="166.10000000000002" stroke="#808080" stroke-width="0.9" stroke-opacity="0.75"/>
<line x1="1598.39" x2="1598.39" y1="496.4" y2="483.59999999999997" stroke="#808080" stroke-width="0.9" stroke-opacity="0.75"/>
<line x1="1352.4" x2="1365.2" y1="166.50" y2="166.50" stroke="#808080" stroke-width="0.9" stroke-opacity="0.75"/>
<line x1="1610.1" x2="1597.3" y1="166.50" y2="166.50" stroke="#808080" stroke-width="0.9" stroke-opacity="0.75"/>
<line x1="1352.4" x2="1365.2" y1="245.85" y2="245.85" stroke="#808080" stroke-width="0.9" stroke-opacity="0.75"/>
<line x1="1610.1" x2="1597.3" y1="245.85" y2="245.85" stroke="#808080" stroke-width="0.9" stroke-opacity="0.75"/>
<line x1="1352.4" x2="1365.2" y1="325.20" y2="325.20" stroke="#808080" stroke-width="0.9" stroke-opacity="0.75"/>
<line x1="1610.1" x2="1597.3" y1="325.20" y2="325.20" stroke="#808080" stroke-width="0.9" stroke-opacity="0.75"/>
<line x1="1352.4" x2="1365.2" y1="404.55" y2="404.55" stroke="#808080" stroke-width="0.9" stroke-opacity="0.75"/>
<line x1="1610.1" x2="1597.3" y1="404.55" y2="404.55" stroke="#808080" stroke-width="0.9" stroke-opacity="0.75"/>
<line x1="1352.4" x2="1365.2" y1="483.90" y2="483.90" stroke="#808080" stroke-width="0.9" stroke-opacity="0.75"/>
<line x1="1610.1" x2="1597.3" y1="483.90" y2="483.90" stroke="#808080" stroke-width="0.9" stroke-opacity="0.75"/>
<rect x="1352.4" y="153.3" width="257.6999999999998" height="343.09999999999997" fill="none" stroke="#000" stroke-width="3.3"/>
<text transform="translate(1344.74 527.30) rotate(0.03) scale(0.9355 1)" font-size="30.0" fill="#000" stroke="#000" stroke-width="0.2">0.3</text>
<text transform="translate(1454.49 527.30) rotate(0.03) scale(0.9211 1)" font-size="30.0" fill="#000" stroke="#000" stroke-width="0.2">0.35</text>
<text transform="translate(1579.23 527.30) rotate(0.03) scale(0.9146 1)" font-size="30.0" fill="#000" stroke="#000" stroke-width="0.2">0.4</text>
<defs><clipPath id="hc4"><rect x="1677.5" y="153.3" width="257.5999999999999" height="343.09999999999997"/></clipPath></defs>
<rect x="1677.5" y="153.3" width="257.5999999999999" height="343.09999999999997" fill="#fff"/>
<g clip-path="url(#hc4)"><g filter="url(#soft)">
<rect x="1888.26" y="149.20" width="24.42" height="31.49" fill="#fde7a9"/>
<rect x="1911.68" y="149.20" width="27.42" height="31.49" fill="#f8745c"/>
<rect x="1888.26" y="179.69" width="24.42" height="27.49" fill="#fec185"/>
<rect x="1911.68" y="179.69" width="27.42" height="27.49" fill="#ed5a5f"/>
<rect x="1888.26" y="206.18" width="24.42" height="27.49" fill="#feb47b"/>
<rect x="1911.68" y="206.18" width="27.42" height="27.49" fill="#db476a"/>
<rect x="1888.26" y="232.68" width="24.42" height="27.49" fill="#fd9b6b"/>
<rect x="1911.68" y="232.68" width="27.42" height="27.49" fill="#c23b75"/>
<rect x="1864.85" y="259.17" width="24.42" height="27.49" fill="#fcf0b2"/>
<rect x="1888.26" y="259.17" width="24.42" height="27.49" fill="#f8745c"/>
<rect x="1911.68" y="259.17" width="27.42" height="27.49" fill="#a5317e"/>
<rect x="1864.85" y="285.66" width="24.42" height="27.49" fill="#fddea0"/>
<rect x="1888.26" y="285.66" width="24.42" height="27.49" fill="#ed5a5f"/>
<rect x="1911.68" y="285.66" width="27.42" height="27.49" fill="#942c80"/>
<rect x="1864.85" y="312.15" width="24.42" height="27.49" fill="#febd82"/>
<rect x="1888.26" y="312.15" width="24.42" height="27.49" fill="#e24d66"/>
<rect x="1911.68" y="312.15" width="27.42" height="27.49" fill="#7c2382"/>
<rect x="1841.43" y="338.65" width="24.42" height="27.49" fill="#fcf4b6"/>
<rect x="1864.85" y="338.65" width="24.42" height="27.49" fill="#feb77e"/>
<rect x="1888.26" y="338.65" width="24.42" height="27.49" fill="#c23b75"/>
<rect x="1911.68" y="338.65" width="27.42" height="27.49" fill="#5c167f"/>
<rect x="1841.43" y="365.14" width="24.42" height="27.49" fill="#fddea0"/>
<rect x="1864.85" y="365.14" width="24.42" height="27.49" fill="#fa7d5e"/>
<rect x="1888.26" y="365.14" width="24.42" height="27.49" fill="#a1307e"/>
<rect x="1911.68" y="365.14" width="27.42" height="27.49" fill="#3b0f70"/>
<rect x="1818.01" y="391.63" width="24.42" height="27.49" fill="#fdebac"/>
<rect x="1841.43" y="391.63" width="24.42" height="27.49" fill="#fec185"/>
<rect x="1864.85" y="391.63" width="24.42" height="27.49" fill="#f4675c"/>
<rect x="1888.26" y="391.63" width="24.42" height="27.49" fill="#942c80"/>
<rect x="1911.68" y="391.63" width="27.42" height="27.49" fill="#2d1161"/>
<rect x="1818.01" y="418.12" width="24.42" height="27.49" fill="#fddea0"/>
<rect x="1841.43" y="418.12" width="24.42" height="27.49" fill="#fe9f6d"/>
<rect x="1864.85" y="418.12" width="24.42" height="27.49" fill="#e85362"/>
<rect x="1888.26" y="418.12" width="24.42" height="27.49" fill="#842681"/>
<rect x="1911.68" y="418.12" width="27.42" height="27.49" fill="#180f3d"/>
<rect x="1818.01" y="444.62" width="24.42" height="27.49" fill="#fecf92"/>
<rect x="1841.43" y="444.62" width="24.42" height="27.49" fill="#fb835f"/>
<rect x="1864.85" y="444.62" width="24.42" height="27.49" fill="#cf4070"/>
<rect x="1888.26" y="444.62" width="24.42" height="27.49" fill="#6b1d81"/>
<rect x="1911.68" y="444.62" width="27.42" height="27.49" fill="#050416"/>
<rect x="1818.01" y="471.11" width="24.42" height="30.49" fill="#fea973"/>
<rect x="1841.43" y="471.11" width="24.42" height="30.49" fill="#f56b5c"/>
<rect x="1864.85" y="471.11" width="24.42" height="30.49" fill="#ba3878"/>
<rect x="1888.26" y="471.11" width="24.42" height="30.49" fill="#59157e"/>
<rect x="1911.68" y="471.11" width="27.42" height="30.49" fill="#03030f"/>
</g></g>
<line x1="1689.21" x2="1689.21" y1="153.3" y2="166.10000000000002" stroke="#808080" stroke-width="0.9" stroke-opacity="0.75"/>
<line x1="1689.21" x2="1689.21" y1="496.4" y2="483.59999999999997" stroke="#808080" stroke-width="0.9" stroke-opacity="0.75"/>
<line x1="1806.30" x2="1806.30" y1="153.3" y2="166.10000000000002" stroke="#808080" stroke-width="0.9" stroke-opacity="0.75"/>
<line x1="1806.30" x2="1806.30" y1="496.4" y2="483.59999999999997" stroke="#808080" stroke-width="0.9" stroke-opacity="0.75"/>
<line x1="1923.39" x2="1923.39" y1="153.3" y2="166.10000000000002" stroke="#808080" stroke-width="0.9" stroke-opacity="0.75"/>
<line x1="1923.39" x2="1923.39" y1="496.4" y2="483.59999999999997" stroke="#808080" stroke-width="0.9" stroke-opacity="0.75"/>
<line x1="1677.5" x2="1690.3" y1="166.50" y2="166.50" stroke="#808080" stroke-width="0.9" stroke-opacity="0.75"/>
<line x1="1935.1" x2="1922.3" y1="166.50" y2="166.50" stroke="#808080" stroke-width="0.9" stroke-opacity="0.75"/>
<line x1="1677.5" x2="1690.3" y1="245.85" y2="245.85" stroke="#808080" stroke-width="0.9" stroke-opacity="0.75"/>
<line x1="1935.1" x2="1922.3" y1="245.85" y2="245.85" stroke="#808080" stroke-width="0.9" stroke-opacity="0.75"/>
<line x1="1677.5" x2="1690.3" y1="325.20" y2="325.20" stroke="#808080" stroke-width="0.9" stroke-opacity="0.75"/>
<line x1="1935.1" x2="1922.3" y1="325.20" y2="325.20" stroke="#808080" stroke-width="0.9" stroke-opacity="0.75"/>
<line x1="1677.5" x2="1690.3" y1="404.55" y2="404.55" stroke="#808080" stroke-width="0.9" stroke-opacity="0.75"/>
<line x1="1935.1" x2="1922.3" y1="404.55" y2="404.55" stroke="#808080" stroke-width="0.9" stroke-opacity="0.75"/>
<line x1="1677.5" x2="1690.3" y1="483.90" y2="483.90" stroke="#808080" stroke-width="0.9" stroke-opacity="0.75"/>
<line x1="1935.1" x2="1922.3" y1="483.90" y2="483.90" stroke="#808080" stroke-width="0.9" stroke-opacity="0.75"/>
<rect x="1677.5" y="153.3" width="257.5999999999999" height="343.09999999999997" fill="none" stroke="#000" stroke-width="3.3"/>
<text transform="translate(1669.83 527.30) rotate(0.03) scale(0.9355 1)" font-size="30.0" fill="#000" stroke="#000" stroke-width="0.2">0.3</text>
<text transform="translate(1779.54 527.30) rotate(0.03) scale(0.9211 1)" font-size="30.0" fill="#000" stroke="#000" stroke-width="0.2">0.35</text>
<text transform="translate(1904.23 527.30) rotate(0.03) scale(0.9146 1)" font-size="30.0" fill="#000" stroke="#000" stroke-width="0.2">0.4</text>
<text transform="translate(666.11 176.70) rotate(0.03) scale(0.9176 1)" font-size="30.0" fill="#000" stroke="#000" stroke-width="0.2">25.0</text>
<text transform="translate(666.10 255.99) rotate(0.03) scale(0.9253 1)" font-size="30.0" fill="#000" stroke="#000" stroke-width="0.2">21.9</text>
<text transform="translate(665.65 335.28) rotate(0.03) scale(0.9331 1)" font-size="30.0" fill="#000" stroke="#000" stroke-width="0.2">18.8</text>
<text transform="translate(665.65 414.57) rotate(0.03) scale(0.9331 1)" font-size="30.0" fill="#000" stroke="#000" stroke-width="0.2">16.2</text>
<text transform="translate(665.65 493.86) rotate(0.03) scale(0.9331 1)" font-size="30.0" fill="#000" stroke="#000" stroke-width="0.2">13.7</text>
<text transform="translate(1945.00 176.70) rotate(0.03) scale(0.9247 1)" font-size="30.0" fill="#000" stroke="#000" stroke-width="0.2">25.0</text>
<text transform="translate(1944.99 255.99) rotate(0.03) scale(0.9325 1)" font-size="30.0" fill="#000" stroke="#000" stroke-width="0.2">21.9</text>
<text transform="translate(1944.54 335.28) rotate(0.03) scale(0.9404 1)" font-size="30.0" fill="#000" stroke="#000" stroke-width="0.2">18.8</text>
<text transform="translate(1944.54 414.57) rotate(0.03) scale(0.9404 1)" font-size="30.0" fill="#000" stroke="#000" stroke-width="0.2">16.2</text>
<text transform="translate(1944.54 493.86) rotate(0.03) scale(0.9404 1)" font-size="30.0" fill="#000" stroke="#000" stroke-width="0.2">13.7</text>
<text transform="translate(745.28 193.10) rotate(0.03) scale(1.0328 1)" x="0.00 28.46" y="0" font-size="31.9" fill="#fff" stroke="#fff" stroke-width="1.8" font-family='"DejaVu Sans", sans-serif'>QA</text>
<text transform="translate(1044.94 193.10) rotate(0.03) scale(1.1670 1)" x="0.00 21.36 32.96 61.80" y="0" font-size="31.9" fill="#fff" stroke="#fff" stroke-width="1.8" font-family='"DejaVu Sans", sans-serif'>PIMC</text>
<g>
<text transform="translate(638.20 460.95) rotate(-89.97) scale(0.9558 1)" font-size="29.8" fill="#000" stroke="#000" stroke-width="0.25">Temperature</text>
<text transform="translate(638.20 289.22) rotate(-89.97) scale(0.9947 1)" font-size="29.8" fill="#000" stroke="#000" stroke-width="0.25"><tspan font-style="italic">T</tspan></text>
<text transform="translate(638.20 256.66) rotate(-89.97) scale(1.0486 1)" font-size="29.8" fill="#000" stroke="#000" stroke-width="0.25">(mK)</text>
</g>
<g>
<text transform="translate(2042.40 460.95) rotate(-89.97) scale(0.9558 1)" font-size="29.8" fill="#000" stroke="#000" stroke-width="0.25">Temperature</text>
<text transform="translate(2042.40 289.22) rotate(-89.97) scale(0.9947 1)" font-size="29.8" fill="#000" stroke="#000" stroke-width="0.25"><tspan font-style="italic">T</tspan></text>
<text transform="translate(2042.40 256.66) rotate(-89.97) scale(1.0486 1)" font-size="29.8" fill="#000" stroke="#000" stroke-width="0.25">(mK)</text>
</g>
<g>
<text transform="translate(869.10 569.60) rotate(0.03) scale(0.9336 1)" font-size="29.8" fill="#000" stroke="#000" stroke-width="0.25">Annealing</text>
<text transform="translate(1002.57 569.60) rotate(0.03) scale(0.9267 1)" font-size="29.8" fill="#000" stroke="#000" stroke-width="0.25">parameter</text>
<text transform="translate(1139.50 569.60) rotate(0.03) scale(0.8244 1)" font-size="29.8" fill="#000" stroke="#000" stroke-width="0.25"><tspan font-style="italic">s</tspan></text>
</g>
<g>
<text transform="translate(1340.00 569.60) rotate(0.03) scale(0.9336 1)" font-size="29.8" fill="#000" stroke="#000" stroke-width="0.25">Annealing</text>
<text transform="translate(1473.47 569.60) rotate(0.03) scale(0.9267 1)" font-size="29.8" fill="#000" stroke="#000" stroke-width="0.25">parameter</text>
<text transform="translate(1610.40 569.60) rotate(0.03) scale(0.8244 1)" font-size="29.8" fill="#000" stroke="#000" stroke-width="0.25"><tspan font-style="italic">s</tspan></text>
</g>
<g>
<text transform="translate(1665.70 569.60) rotate(0.03) scale(0.9336 1)" font-size="29.8" fill="#000" stroke="#000" stroke-width="0.25">Annealing</text>
<text transform="translate(1799.17 569.60) rotate(0.03) scale(0.9267 1)" font-size="29.8" fill="#000" stroke="#000" stroke-width="0.25">parameter</text>
<text transform="translate(1936.10 569.60) rotate(0.03) scale(0.8244 1)" font-size="29.8" fill="#000" stroke="#000" stroke-width="0.25"><tspan font-style="italic">s</tspan></text>
</g>
<linearGradient id="cbv" x1="0" x2="1" y1="0" y2="0"><stop offset="0.0000" stop-color="#440154"/><stop offset="0.0156" stop-color="#46075a"/><stop offset="0.0312" stop-color="#470d60"/><stop offset="0.0469" stop-color="#471365"/><stop offset="0.0625" stop-color="#48186a"/><stop offset="0.0781" stop-color="#481d6f"/><stop offset="0.0938" stop-color="#482374"/><stop offset="0.1094" stop-color="#482878"/><stop offset="0.1250" stop-color="#472d7b"/><stop offset="0.1406" stop-color="#46327e"/><stop offset="0.1562" stop-color="#453781"/><stop offset="0.1719" stop-color="#443b84"/><stop offset="0.1875" stop-color="#424086"/><stop offset="0.2031" stop-color="#404588"/><stop offset="0.2188" stop-color="#3e4989"/><stop offset="0.2344" stop-color="#3d4e8a"/><stop offset="0.2500" stop-color="#3b528b"/><stop offset="0.2656" stop-color="#39568c"/><stop offset="0.2812" stop-color="#375b8d"/><stop offset="0.2969" stop-color="#355f8d"/><stop offset="0.3125" stop-color="#33638d"/><stop offset="0.3281" stop-color="#31678e"/><stop offset="0.3438" stop-color="#2f6b8e"/><stop offset="0.3594" stop-color="#2e6f8e"/><stop offset="0.3750" stop-color="#2c728e"/><stop offset="0.3906" stop-color="#2a768e"/><stop offset="0.4062" stop-color="#297a8e"/><stop offset="0.4219" stop-color="#277e8e"/><stop offset="0.4375" stop-color="#26828e"/><stop offset="0.4531" stop-color="#25858e"/><stop offset="0.4688" stop-color="#23898e"/><stop offset="0.4844" stop-color="#228d8d"/><stop offset="0.5000" stop-color="#21918c"/><stop offset="0.5156" stop-color="#1f948c"/><stop offset="0.5312" stop-color="#1f988b"/><stop offset="0.5469" stop-color="#1e9c89"/><stop offset="0.5625" stop-color="#1fa088"/><stop offset="0.5781" stop-color="#20a386"/><stop offset="0.5938" stop-color="#22a785"/><stop offset="0.6094" stop-color="#25ab82"/><stop offset="0.6250" stop-color="#28ae80"/><stop offset="0.6406" stop-color="#2db27d"/><stop offset="0.6562" stop-color="#32b67a"/><stop offset="0.6719" stop-color="#38b977"/><stop offset="0.6875" stop-color="#3fbc73"/><stop offset="0.7031" stop-color="#46c06f"/><stop offset="0.7188" stop-color="#4ec36b"/><stop offset="0.7344" stop-color="#56c667"/><stop offset="0.7500" stop-color="#5ec962"/><stop offset="0.7656" stop-color="#67cc5c"/><stop offset="0.7812" stop-color="#70cf57"/><stop offset="0.7969" stop-color="#7ad151"/><stop offset="0.8125" stop-color="#84d44b"/><stop offset="0.8281" stop-color="#8ed645"/><stop offset="0.8438" stop-color="#98d83e"/><stop offset="0.8594" stop-color="#a2da37"/><stop offset="0.8750" stop-color="#addc30"/><stop offset="0.8906" stop-color="#b8de29"/><stop offset="0.9062" stop-color="#c2df23"/><stop offset="0.9219" stop-color="#cde11d"/><stop offset="0.9375" stop-color="#d8e219"/><stop offset="0.9531" stop-color="#e2e418"/><stop offset="0.9688" stop-color="#ece51b"/><stop offset="0.9844" stop-color="#f6e620"/><stop offset="1.0000" stop-color="#fde725"/></linearGradient>
<rect x="793.8" y="93.0" width="429.4000000000001" height="26.0" fill="url(#cbv)"/>
<line x1="847.70" x2="847.70" y1="93.0" y2="119.0" stroke="#808080" stroke-width="0.9" stroke-opacity="0.8"/>
<line x1="955.00" x2="955.00" y1="93.0" y2="119.0" stroke="#808080" stroke-width="0.9" stroke-opacity="0.8"/>
<line x1="1062.70" x2="1062.70" y1="93.0" y2="119.0" stroke="#808080" stroke-width="0.9" stroke-opacity="0.8"/>
<line x1="1169.60" x2="1169.60" y1="93.0" y2="119.0" stroke="#808080" stroke-width="0.9" stroke-opacity="0.8"/>
<rect x="793.8" y="93.0" width="429.4000000000001" height="26.0" fill="none" stroke="#262626" stroke-width="1.2"/>
<linearGradient id="cbd" x1="0" x2="1" y1="0" y2="0"><stop offset="0.0000" stop-color="#3b4cc0"/><stop offset="0.0156" stop-color="#3f53c6"/><stop offset="0.0312" stop-color="#445acc"/><stop offset="0.0469" stop-color="#4961d2"/><stop offset="0.0625" stop-color="#4e68d8"/><stop offset="0.0781" stop-color="#536edd"/><stop offset="0.0938" stop-color="#5875e1"/><stop offset="0.1094" stop-color="#5d7ce6"/><stop offset="0.1250" stop-color="#6282ea"/><stop offset="0.1406" stop-color="#6788ee"/><stop offset="0.1562" stop-color="#6c8ff1"/><stop offset="0.1719" stop-color="#7295f4"/><stop offset="0.1875" stop-color="#779af7"/><stop offset="0.2031" stop-color="#7da0f9"/><stop offset="0.2188" stop-color="#82a6fb"/><stop offset="0.2344" stop-color="#88abfd"/><stop offset="0.2500" stop-color="#8db0fe"/><stop offset="0.2656" stop-color="#93b5fe"/><stop offset="0.2812" stop-color="#98b9ff"/><stop offset="0.2969" stop-color="#9ebeff"/><stop offset="0.3125" stop-color="#a3c2fe"/><stop offset="0.3281" stop-color="#a9c6fd"/><stop offset="0.3438" stop-color="#aec9fc"/><stop offset="0.3594" stop-color="#b3cdfb"/><stop offset="0.3750" stop-color="#b9d0f9"/><stop offset="0.3906" stop-color="#bed2f6"/><stop offset="0.4062" stop-color="#c3d5f4"/><stop offset="0.4210" stop-color="#c7d7f0"/><stop offset="0.4290" stop-color="#ffffff"/><stop offset="0.5710" stop-color="#ffffff"/><stop offset="0.5790" stop-color="#eed0c0"/><stop offset="0.5938" stop-color="#f1ccb8"/><stop offset="0.6094" stop-color="#f3c8b2"/><stop offset="0.6250" stop-color="#f5c4ac"/><stop offset="0.6406" stop-color="#f6bfa6"/><stop offset="0.6562" stop-color="#f7ba9f"/><stop offset="0.6719" stop-color="#f7b599"/><stop offset="0.6875" stop-color="#f7b093"/><stop offset="0.7031" stop-color="#f7aa8c"/><stop offset="0.7188" stop-color="#f6a586"/><stop offset="0.7344" stop-color="#f59f80"/><stop offset="0.7500" stop-color="#f4987a"/><stop offset="0.7656" stop-color="#f29274"/><stop offset="0.7812" stop-color="#f08b6e"/><stop offset="0.7969" stop-color="#ee8468"/><stop offset="0.8125" stop-color="#eb7d62"/><stop offset="0.8281" stop-color="#e8765c"/><stop offset="0.8438" stop-color="#e46e56"/><stop offset="0.8594" stop-color="#e16751"/><stop offset="0.8750" stop-color="#dd5f4b"/><stop offset="0.8906" stop-color="#d85646"/><stop offset="0.9062" stop-color="#d44e41"/><stop offset="0.9219" stop-color="#cf453c"/><stop offset="0.9375" stop-color="#ca3b37"/><stop offset="0.9531" stop-color="#c43032"/><stop offset="0.9688" stop-color="#be242e"/><stop offset="0.9844" stop-color="#b8122a"/><stop offset="1.0000" stop-color="#b40426"/></linearGradient>
<rect x="1352.5" y="93.0" width="257.29999999999995" height="26.0" fill="url(#cbd)"/>
<line x1="1416.80" x2="1416.80" y1="93.0" y2="119.0" stroke="#808080" stroke-width="0.9" stroke-opacity="0.8"/>
<line x1="1481.30" x2="1481.30" y1="93.0" y2="119.0" stroke="#808080" stroke-width="0.9" stroke-opacity="0.8"/>
<line x1="1545.60" x2="1545.60" y1="93.0" y2="119.0" stroke="#808080" stroke-width="0.9" stroke-opacity="0.8"/>
<rect x="1352.5" y="93.0" width="257.29999999999995" height="26.0" fill="none" stroke="#262626" stroke-width="1.2"/>
<linearGradient id="cbt" x1="0" x2="1" y1="0" y2="0"><stop offset="0.0000" stop-color="#fcfdbf"/><stop offset="0.0156" stop-color="#fcf7b9"/><stop offset="0.0312" stop-color="#fcf0b2"/><stop offset="0.0469" stop-color="#fde9aa"/><stop offset="0.0625" stop-color="#fde2a3"/><stop offset="0.0781" stop-color="#fdda9c"/><stop offset="0.0938" stop-color="#fed395"/><stop offset="0.1094" stop-color="#fecc8f"/><stop offset="0.1250" stop-color="#fec488"/><stop offset="0.1406" stop-color="#febd82"/><stop offset="0.1562" stop-color="#feb67c"/><stop offset="0.1719" stop-color="#feae77"/><stop offset="0.1875" stop-color="#fea772"/><stop offset="0.2031" stop-color="#fe9f6d"/><stop offset="0.2188" stop-color="#fd9869"/><stop offset="0.2344" stop-color="#fc9065"/><stop offset="0.2500" stop-color="#fc8961"/><stop offset="0.2656" stop-color="#fa815f"/><stop offset="0.2812" stop-color="#f9795d"/><stop offset="0.2969" stop-color="#f7725c"/><stop offset="0.3125" stop-color="#f56b5c"/><stop offset="0.3281" stop-color="#f2645c"/><stop offset="0.3438" stop-color="#ef5d5e"/><stop offset="0.3594" stop-color="#eb5760"/><stop offset="0.3750" stop-color="#e75263"/><stop offset="0.3906" stop-color="#e24d66"/><stop offset="0.4062" stop-color="#dc4869"/><stop offset="0.4219" stop-color="#d6456c"/><stop offset="0.4375" stop-color="#d0416f"/><stop offset="0.4531" stop-color="#ca3e72"/><stop offset="0.4688" stop-color="#c43c75"/><stop offset="0.4844" stop-color="#bd3977"/><stop offset="0.5000" stop-color="#b73779"/><stop offset="0.5156" stop-color="#b0357b"/><stop offset="0.5312" stop-color="#aa337d"/><stop offset="0.5469" stop-color="#a3307e"/><stop offset="0.5625" stop-color="#9c2e7f"/><stop offset="0.5781" stop-color="#962c80"/><stop offset="0.5938" stop-color="#902a81"/><stop offset="0.6094" stop-color="#892881"/><stop offset="0.6250" stop-color="#832681"/><stop offset="0.6406" stop-color="#7c2382"/><stop offset="0.6562" stop-color="#762181"/><stop offset="0.6719" stop-color="#701f81"/><stop offset="0.6875" stop-color="#6a1c81"/><stop offset="0.7031" stop-color="#641a80"/><stop offset="0.7188" stop-color="#5d177f"/><stop offset="0.7344" stop-color="#57157e"/><stop offset="0.7500" stop-color="#51127c"/><stop offset="0.7656" stop-color="#4a1079"/><stop offset="0.7812" stop-color="#440f76"/><stop offset="0.7969" stop-color="#3d0f71"/><stop offset="0.8125" stop-color="#36106b"/><stop offset="0.8281" stop-color="#2f1163"/><stop offset="0.8438" stop-color="#29115a"/><stop offset="0.8594" stop-color="#221150"/><stop offset="0.8750" stop-color="#1d1147"/><stop offset="0.8906" stop-color="#180f3d"/><stop offset="0.9062" stop-color="#130d34"/><stop offset="0.9219" stop-color="#0e0b2b"/><stop offset="0.9375" stop-color="#0a0822"/><stop offset="0.9531" stop-color="#06051a"/><stop offset="0.9688" stop-color="#030312"/><stop offset="0.9844" stop-color="#020109"/><stop offset="1.0000" stop-color="#000004"/></linearGradient>
<rect x="1677.5" y="93.0" width="258.0" height="26.0" fill="url(#cbt)"/>
<line x1="1740.60" x2="1740.60" y1="93.0" y2="119.0" stroke="#808080" stroke-width="0.9" stroke-opacity="0.8"/>
<line x1="1803.30" x2="1803.30" y1="93.0" y2="119.0" stroke="#808080" stroke-width="0.9" stroke-opacity="0.8"/>
<line x1="1866.00" x2="1866.00" y1="93.0" y2="119.0" stroke="#808080" stroke-width="0.9" stroke-opacity="0.8"/>
<line x1="1928.70" x2="1928.70" y1="93.0" y2="119.0" stroke="#808080" stroke-width="0.9" stroke-opacity="0.8"/>
<rect x="1677.5" y="93.0" width="258.0" height="26.0" fill="none" stroke="#262626" stroke-width="1.2"/>
<text transform="translate(827.93 82.90) rotate(0.03) scale(0.9585 1)" font-size="29.2" fill="#000" stroke="#000" stroke-width="0.2">0.2</text>
<text transform="translate(934.93 82.90) rotate(0.03) scale(0.9559 1)" font-size="29.2" fill="#000" stroke="#000" stroke-width="0.2">0.3</text>
<text transform="translate(1042.33 82.90) rotate(0.03) scale(0.9550 1)" font-size="29.2" fill="#000" stroke="#000" stroke-width="0.2">0.4</text>
<text transform="translate(1149.93 82.90) rotate(0.03) scale(0.9507 1)" font-size="29.2" fill="#000" stroke="#000" stroke-width="0.2">0.5</text>
<text transform="translate(1321.05 80.20) rotate(0.03) scale(0.9585 1)" font-size="29.2" fill="#000" stroke="#000" stroke-width="0.2"><tspan font-weight="200" font-family='"DejaVu Sans", sans-serif' font-size="31.0" stroke-width="0.5" x="0.00" y="1.60">−</tspan><tspan x="24.91" y="0.00">0.2</tspan></text>
<text transform="translate(1473.56 82.90) rotate(0.03) scale(0.9247 1)" font-size="29.2" fill="#000" stroke="#000" stroke-width="0.2">0</text>
<text transform="translate(1590.63 82.90) rotate(0.03) scale(0.9481 1)" font-size="29.2" fill="#000" stroke="#000" stroke-width="0.2">0.2</text>
<text transform="translate(1670.68 82.90) rotate(0.03) scale(0.8314 1)" font-size="29.2" fill="#000" stroke="#000" stroke-width="0.2">1</text>
<text transform="translate(1732.70 82.90) rotate(0.03) scale(0.9498 1)" font-size="29.2" fill="#000" stroke="#000" stroke-width="0.2">2</text>
<text transform="translate(1795.58 82.90) rotate(0.03) scale(0.9298 1)" font-size="29.2" fill="#000" stroke="#000" stroke-width="0.2">4</text>
<text transform="translate(1858.10 82.90) rotate(0.03) scale(0.9898 1)" font-size="29.2" fill="#000" stroke="#000" stroke-width="0.2">8</text>
<text transform="translate(1913.70 82.90) rotate(0.03) scale(0.9297 1)" font-size="29.2" fill="#000" stroke="#000" stroke-width="0.2">16</text>
<text transform="translate(648.70 35.00) rotate(0.03) scale(1.0452 1)" font-size="47.5" fill="#000" stroke="#000" stroke-width="0.25"><tspan font-weight="bold">b</tspan></text>
<text transform="translate(1335.97 36.60) rotate(0.03) scale(0.9745 1)" font-size="47.0" fill="#000" stroke="#000" stroke-width="0.25"><tspan font-weight="bold">c</tspan></text>
<text transform="translate(1662.23 35.90) rotate(0.03) scale(0.9922 1)" font-size="47.5" fill="#000" stroke="#000" stroke-width="0.25"><tspan font-weight="bold">d</tspan></text>
<g>
<text transform="translate(927.13 34.50) rotate(0.03) scale(0.9579 1)" font-size="29.8" fill="#000" stroke="#000" stroke-width="0.25"><tspan font-weight="200" font-family='"DejaVu Sans", sans-serif' font-size="33.5" stroke-width="0" x="0.00" y="3.00">⟨</tspan><tspan font-style="italic" x="13.18" y="0.00">m</tspan><tspan font-weight="200" font-family='"DejaVu Sans", sans-serif' font-size="33.5" stroke-width="0" x="36.12" y="3.00">⟩</tspan></text>
<g>
<text transform="translate(984.42 34.50) rotate(0.03) scale(0.9476 1)" font-size="29.8" fill="#000" stroke="#000" stroke-width="0.25">estimate</text>
</g>
</g>
<g>
<text transform="translate(1397.95 35.80) rotate(0.03) scale(0.9512 1)" font-size="30.2" fill="#000" stroke="#000" stroke-width="0.25">QA</text>
<text transform="translate(1450.51 35.80) rotate(0.03) scale(0.9412 1)" font-size="30.2" fill="#000" stroke="#000" stroke-width="0.25">deviation</text>
</g>
<g>
<g>
<text transform="translate(1721.25 35.60) rotate(0.03) scale(0.9560 1)" font-size="30.2" fill="#000" stroke="#000" stroke-width="0.25">QA</text>
<text transform="translate(1774.90 35.60) rotate(0.03) scale(0.9690 1)" font-size="30.2" fill="#000" stroke="#000" stroke-width="0.25">time</text>
</g>
<text transform="translate(1840.17 35.60) rotate(0.03) scale(0.9400 1)" font-size="30.2" fill="#000" stroke="#000" stroke-width="0.25"><tspan x="0.00" y="0.00">(</tspan><tspan font-family='"Liberation Serif", sans-serif' x="10.37" y="0.00">µ</tspan><tspan x="28.18" y="0.00">s</tspan><tspan x="44.61" y="0.00">)</tspan></text>
</g>
</svg>
</body></html>
